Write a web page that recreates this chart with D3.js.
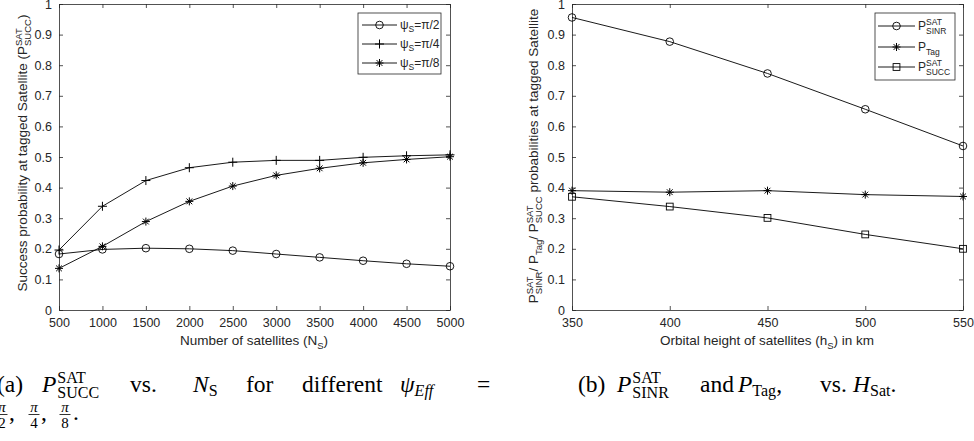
<!DOCTYPE html>
<html>
<head>
<meta charset="utf-8">
<script src="https://cdn.jsdelivr.net/npm/d3@7"></script>
<style>
  html, body { margin: 0; padding: 0; background: #fff; }
  svg { display: block; }
  .ax text { font-family: "Liberation Sans", Arial, Helvetica, sans-serif; fill: #262626; }
  .sans { font-family: "Liberation Sans", Arial, Helvetica, sans-serif; fill: #262626; white-space: pre; }
  .serif { font-family: "Liberation Serif", "Times New Roman", serif; fill: #000; white-space: pre; }
</style>
</head>
<body>
<svg id="chart" width="974" height="441"></svg>
<script>
// ---------------- data ----------------
const numSatellites = [500, 1000, 1500, 2000, 2500, 3000, 3500, 4000, 4500, 5000];
const psiHalf    = [0.183, 0.198, 0.202, 0.200, 0.194, 0.183, 0.172, 0.161, 0.151, 0.143];
const psiQuarter = [0.196, 0.339, 0.423, 0.465, 0.483, 0.489, 0.489, 0.499, 0.504, 0.507];
const psiEighth  = [0.136, 0.208, 0.289, 0.355, 0.405, 0.440, 0.463, 0.481, 0.492, 0.501];

const orbitHeights = [350, 400, 450, 500, 550];
const pSinr = [0.956, 0.877, 0.773, 0.656, 0.536];
const pTag  = [0.390, 0.385, 0.390, 0.377, 0.371];
const pSucc = [0.370, 0.338, 0.301, 0.247, 0.200];

const yTicks = [0, 0.1, 0.2, 0.3, 0.4, 0.5, 0.6, 0.7, 0.8, 0.9, 1];
const yTickLabels = ["0", "0.1", "0.2", "0.3", "0.4", "0.5", "0.6", "0.7", "0.8", "0.9", "1"];
const xTicksLeft = [500, 1000, 1500, 2000, 2500, 3000, 3500, 4000, 4500, 5000];
const xTicksRight = [350, 400, 450, 500, 550];

// ---------------- helpers ----------------
const svg = d3.select("#chart");
svg.append("rect").attr("width", 974).attr("height", 441).attr("fill", "#fff");

function rich(parent, parts, cls, baseSize) {
  const g = parent.append("g");
  let x = 0, prevStart = 0, prevW = 0;
  parts.forEach(p => {
    const start = (p.stack ? prevStart : x) + (p.dx || 0);
    const el = g.append("text").attr("class", cls)
      .attr("x", start).attr("y", p.dy || 0)
      .style("font-size", (p.size || baseSize) + "px")
      .style("font-style", p.italic ? "italic" : "normal")
      .text(p.t);
    const w = el.node().getComputedTextLength();
    if (p.stack) {
      x = Math.max(prevStart + prevW, start + w);
    } else {
      prevStart = start; prevW = w; x = start + w;
    }
  });
  return { g, width: x };
}

function centeredRich(parent, parts, cls, baseSize, cx, cy, rotate) {
  const outer = parent.append("g").attr("transform", `translate(${cx},${cy})` + (rotate ? ` rotate(${rotate})` : ""));
  const r = rich(outer, parts, cls, baseSize);
  r.g.attr("transform", `translate(${-r.width / 2},0)`);
  return r;
}

function markerPath(type, s) {
  const h = s / 2;
  if (type === "plus") return `M${-h},0H${h}M0,${-h}V${h}`;
  if (type === "star") {
    const d = h * 0.72;
    return `M${-h},0H${h}M0,${-h}V${h}M${-d},${-d}L${d},${d}M${-d},${d}L${d},${-d}`;
  }
  return "";
}

function drawMarker(g, type, x, y) {
  if (type === "circle") {
    g.append("circle").attr("cx", x).attr("cy", y).attr("r", 3.8)
      .attr("fill", "none").attr("stroke", "#000").attr("stroke-width", 0.9);
  } else if (type === "square") {
    g.append("rect").attr("x", x - 3.4).attr("y", y - 3.4).attr("width", 6.8).attr("height", 6.8)
      .attr("fill", "none").attr("stroke", "#000").attr("stroke-width", 0.9);
  } else if (type === "plus") {
    g.append("path").attr("d", markerPath("plus", 9)).attr("transform", `translate(${x},${y})`)
      .attr("stroke", "#000").attr("stroke-width", 1).attr("fill", "none");
  } else if (type === "star") {
    g.append("path").attr("d", markerPath("star", 8)).attr("transform", `translate(${x},${y})`)
      .attr("stroke", "#000").attr("stroke-width", 1).attr("fill", "none");
  }
}

function panel(cfg) {
  const { x0, x1, y0, y1, xDomain, xTicks, series, xs } = cfg;
  const x = d3.scaleLinear().domain(xDomain).range([x0, x1]);
  const y = d3.scaleLinear().domain([0, 1]).range([y1, y0]);
  const g = svg.append("g");

  const axisStyle = sel => {
    sel.select(".domain").attr("stroke", "#262626").attr("stroke-width", 0.8);
    sel.selectAll(".tick line").attr("stroke", "#262626").attr("stroke-width", 0.8);
  };

  g.append("g").attr("class", "ax").attr("transform", `translate(0,${y1})`)
    .call(d3.axisBottom(x).tickValues(xTicks).tickFormat(d3.format("d"))
      .tickSizeInner(-4).tickSizeOuter(0).tickPadding(8.5))
    .call(axisStyle).selectAll("text").style("font-size", "12.5px");
  g.append("g").attr("class", "ax").attr("transform", `translate(0,${y0})`)
    .call(d3.axisTop(x).tickValues(xTicks).tickFormat("").tickSizeInner(-4).tickSizeOuter(0))
    .call(axisStyle);
  g.append("g").attr("class", "ax").attr("transform", `translate(${x0},0)`)
    .call(d3.axisLeft(y).tickValues(yTicks).tickFormat((d, i) => yTickLabels[i])
      .tickSizeInner(-4).tickSizeOuter(0).tickPadding(7))
    .call(axisStyle).selectAll("text").style("font-size", "12.5px");
  g.append("g").attr("class", "ax").attr("transform", `translate(${x1},0)`)
    .call(d3.axisRight(y).tickValues(yTicks).tickFormat("").tickSizeInner(-4).tickSizeOuter(0))
    .call(axisStyle);

  const line = d3.line().x(d => x(d[0])).y(d => y(d[1]));
  series.forEach(s => {
    const pts = xs.map((v, i) => [v, s.values[i]]);
    g.append("path").attr("d", line(pts)).attr("fill", "none")
      .attr("stroke", "#000").attr("stroke-width", 0.9);
    pts.forEach(p => drawMarker(g, s.marker, x(p[0]), y(p[1])));
  });
  return { x, y, g };
}

// ---------------- left panel ----------------
panel({
  x0: 59, x1: 450, y0: 4, y1: 310,
  xDomain: [500, 5000], xTicks: xTicksLeft, xs: numSatellites,
  series: [
    { values: psiHalf, marker: "circle" },
    { values: psiQuarter, marker: "plus" },
    { values: psiEighth, marker: "star" }
  ]
});

// ---------------- right panel ----------------
panel({
  x0: 572, x1: 963, y0: 4, y1: 310,
  xDomain: [350, 550], xTicks: xTicksRight, xs: orbitHeights,
  series: [
    { values: pSinr, marker: "circle" },
    { values: pTag, marker: "star" },
    { values: pSucc, marker: "square" }
  ]
});

// ---------------- axis labels ----------------
const LS = 13.5, SS = 9.5;
centeredRich(svg, [
  { t: "Number of satellites (N" }, { t: "S", size: SS, dy: 3.5 }, { t: ")" }
], "sans", LS, 254, 345);
centeredRich(svg, [
  { t: "Orbital height of satellites (h" }, { t: "S", size: SS, dy: 3.5 }, { t: ") in km" }
], "sans", LS, 767, 345);

centeredRich(svg, [
  { t: "Success probability at tagged Satellite (P" },
  { t: "SAT", size: SS, dy: -5.5 }, { t: "SUCC", size: SS, dy: 4, stack: true },
  { t: ")" }
], "sans", LS, 27, 153, -90);

centeredRich(svg, [
  { t: "P" }, { t: "SAT", size: SS, dy: -5.5 }, { t: "SINR", size: SS, dy: 4, stack: true },
  { t: "/ P" }, { t: "Tag", size: SS, dy: 4 },
  { t: "/ P" }, { t: "SAT", size: SS, dy: -5.5 }, { t: "SUCC", size: SS, dy: 4, stack: true },
  { t: "\u00A0probabilities at tagged Satellite" }
], "sans", LS, 538, 156, -90);

// ---------------- legends ----------------
function legend(box, entries, lineX0, lineX1, textX) {
  svg.append("rect").attr("x", box[0]).attr("y", box[1]).attr("width", box[2]).attr("height", box[3])
    .attr("fill", "#fff").attr("stroke", "#262626").attr("stroke-width", 0.8);
  entries.forEach(e => {
    svg.append("line").attr("x1", lineX0).attr("x2", lineX1).attr("y1", e.y).attr("y2", e.y)
      .attr("stroke", "#000").attr("stroke-width", 0.9);
    drawMarker(svg, e.marker, (lineX0 + lineX1) / 2, e.y);
    const r = rich(svg, e.parts, "sans", 12);
    r.g.attr("transform", `translate(${textX},${e.y + 4})`);
  });
}

legend([358, 13, 83, 61], [
  { y: 25, marker: "circle", parts: [{ t: "ψ" }, { t: "S", size: 8.5, dy: 3 }, { t: "=π/2" }] },
  { y: 44, marker: "plus", parts: [{ t: "ψ" }, { t: "S", size: 8.5, dy: 3 }, { t: "=π/4" }] },
  { y: 63, marker: "star", parts: [{ t: "ψ" }, { t: "S", size: 8.5, dy: 3 }, { t: "=π/8" }] }
], 362, 397, 400);

legend([875, 13, 80, 67], [
  { y: 26, marker: "circle", parts: [{ t: "P" }, { t: "SAT", size: 8.5, dy: -5 }, { t: "SINR", size: 8.5, dy: 4, stack: true }] },
  { y: 47, marker: "star", parts: [{ t: "P" }, { t: "Tag", size: 8.5, dy: 4 }] },
  { y: 67, marker: "square", parts: [{ t: "P" }, { t: "SAT", size: 8.5, dy: -5 }, { t: "SUCC", size: 8.5, dy: 4, stack: true }] }
], 878, 915, 918);

// ---------------- captions ----------------
const CS = 23.5, CSS = 16;
function word(x, y, parts) {
  const r = rich(svg, parts, "serif", CS);
  r.g.attr("transform", `translate(${x},${y})`);
  return r;
}
const cb = 392;
word(-3, cb, [{ t: "(a)" }]);
word(42, cb, [{ t: "P", italic: true }, { t: "SAT", size: CSS, dy: -9.5, dx: 1 }, { t: "SUCC", size: CSS, dy: 6, stack: true }]);
word(130, cb, [{ t: "vs." }]);
word(193, cb, [{ t: "N", italic: true }, { t: "S", size: CSS, dy: 4 }]);
word(246, cb, [{ t: "for" }]);
word(302, cb, [{ t: "different" }]);
word(400, cb, [{ t: "ψ", italic: true }, { t: "Eff", size: CSS, dy: 4, italic: true }]);
word(477, cb, [{ t: "=" }]);

// second line: fractions
const fb = 420;
function frac(cx, den) {
  svg.append("text").attr("class", "serif").attr("x", cx).attr("y", fb - 8)
    .attr("text-anchor", "middle").style("font-size", "15px").style("font-style", "italic").text("π");
  svg.append("line").attr("x1", cx - 5.5).attr("x2", cx + 5.5).attr("y1", fb - 5.5).attr("y2", fb - 5.5)
    .attr("stroke", "#000").attr("stroke-width", 0.8);
  svg.append("text").attr("class", "serif").attr("x", cx).attr("y", fb + 8)
    .attr("text-anchor", "middle").style("font-size", "15px").text(den);
}
frac(2, "2"); word(9, fb, [{ t: "," }]);
frac(34, "4"); word(41, fb, [{ t: "," }]);
frac(65, "8"); word(73, fb, [{ t: "." }]);

word(578, cb, [{ t: "(b)" }]);
word(617, cb, [{ t: "P", italic: true }, { t: "SAT", size: CSS, dy: -9.5, dx: 1 }, { t: "SINR", size: CSS, dy: 6, stack: true }]);
word(700, cb, [{ t: "and" }]);
word(738, cb, [{ t: "P", italic: true }, { t: "Tag", size: CSS, dy: 4 }, { t: "," }]);
word(820, cb, [{ t: "vs." }]);
word(853, cb, [{ t: "H", italic: true }, { t: "Sat", size: CSS, dy: 4 }, { t: "." }]);
</script>
</body>
</html>
